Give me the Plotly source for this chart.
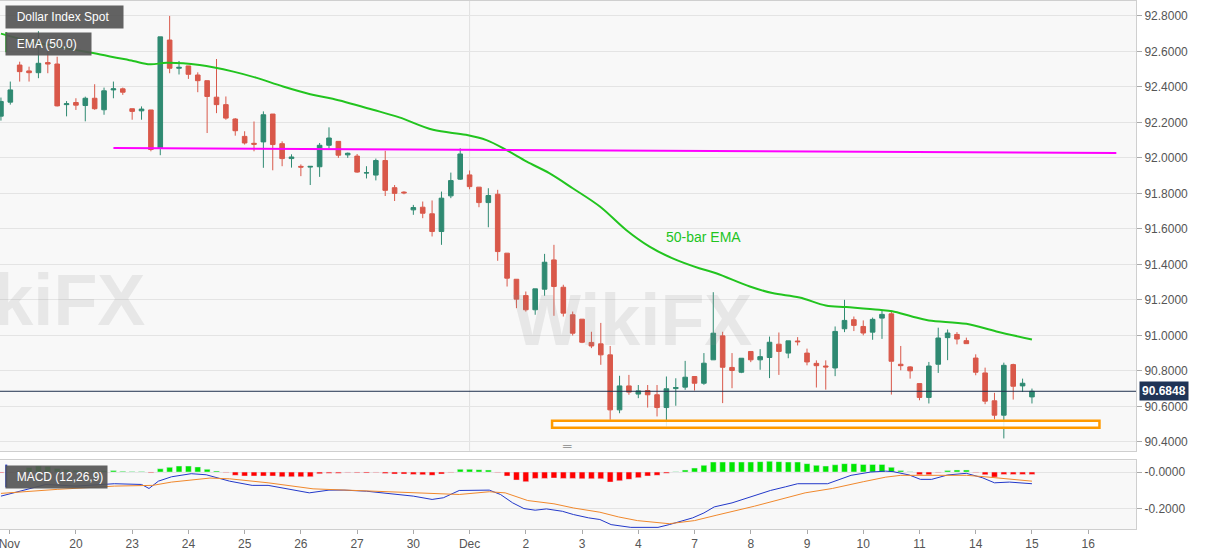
import plotly.graph_objects as go
from plotly.subplots import make_subplots

# Dollar Index Spot, 4-hour bars (bar index 0..110)
bar_open = [92.235, 92.314, 92.523, 92.49, 92.48, 92.537, 92.529, 92.30, 92.312, 92.295,
            92.336, 92.271, 92.383, 92.389, 92.277, 92.265, 92.27, 92.056, 92.664, 92.505,
            92.518, 92.467, 92.435, 92.342, 92.30, 92.219, 92.121, 92.082, 92.09, 92.247,
            92.08, 91.996, 91.952, 91.948, 91.95, 92.071, 92.093, 92.017, 92.01, 91.915,
            91.903, 91.985, 91.832, 91.807, 91.707, 91.722, 91.685, 91.585, 91.786, 91.88,
            91.904, 91.835, 91.748, 91.795, 91.463, 91.316, 91.224, 91.144, 91.26, 91.425,
            91.271, 91.116, 91.091, 90.96, 90.952, 90.89, 90.58, 90.715, 90.669, 90.689,
            90.665, 90.593, 90.70, 90.708, 90.768, 90.73, 90.862, 90.997, 90.819, 90.792,
            90.909, 90.862, 90.875, 90.95, 90.90, 90.968, 90.90, 90.842, 90.827, 90.816,
            91.037, 91.088, 91.05, 91.018, 91.097, 91.121, 90.837, 90.822, 90.728, 90.65,
            90.837, 90.987, 91.005, 90.97, 90.872, 90.788, 90.631, 90.55, 90.835, 90.715,
            90.653]
bar_high = [92.34, 92.43, 92.542, 92.514, 92.714, 92.617, 92.57, 92.32, 92.336, 92.345,
            92.415, 92.396, 92.43, 92.396, 92.277, 92.29, 92.27, 92.682, 92.8, 92.546,
            92.518, 92.482, 92.435, 92.557, 92.346, 92.224, 92.15, 92.205, 92.262, 92.247,
            92.093, 92.02, 91.963, 91.952, 92.084, 92.172, 92.093, 92.03, 92.022, 91.953,
            91.996, 92.04, 91.847, 91.812, 91.735, 91.754, 91.76, 91.81, 91.917, 92.054,
            91.929, 91.835, 91.829, 91.82, 91.463, 91.316, 91.247, 91.262, 91.459, 91.51,
            91.285, 91.134, 91.091, 91.02, 91.07, 90.94, 90.772, 90.777, 90.72, 90.72,
            90.72, 90.768, 90.758, 90.856, 90.768, 90.9, 91.243, 91.02, 90.90, 90.871,
            90.909, 90.922, 90.993, 91.016, 90.969, 90.99, 90.925, 90.859, 90.859, 91.05,
            91.2, 91.106, 91.084, 91.10, 91.14, 91.14, 90.94, 90.826, 90.728, 90.85,
            91.043, 91.033, 91.018, 90.987, 90.893, 90.818, 90.676, 90.846, 90.84, 90.756,
            90.70]
bar_low = [92.21, 92.30, 92.43, 92.43, 92.449, 92.477, 92.29, 92.234, 92.27, 92.206,
           92.271, 92.243, 92.336, 92.355, 92.215, 92.215, 92.037, 92.015, 92.477, 92.47,
           92.445, 92.37, 92.14, 92.252, 92.215, 92.125, 92.075, 92.037, 91.944, 91.93,
           91.953, 91.945, 91.897, 91.847, 91.893, 92.052, 92.0, 92.0, 91.916, 91.884,
           91.873, 91.785, 91.757, 91.795, 91.679, 91.66, 91.557, 91.51, 91.773, 91.876,
           91.823, 91.722, 91.609, 91.42, 91.275, 91.153, 91.134, 91.116, 91.223, 91.11,
           91.106, 90.999, 90.956, 90.928, 90.834, 90.524, 90.561, 90.665, 90.646, 90.593,
           90.543, 90.486, 90.603, 90.693, 90.689, 90.721, 90.862, 90.618, 90.702, 90.787,
           90.849, 90.806, 90.759, 90.777, 90.871, 90.943, 90.831, 90.706, 90.694, 90.77,
           91.018, 91.024, 91.0, 90.975, 90.98, 90.666, 90.803, 90.756, 90.634, 90.616,
           90.788, 90.86, 90.949, 90.953, 90.775, 90.612, 90.526, 90.419, 90.638, 90.681,
           90.616]
bar_close = [92.318, 92.383, 92.486, 92.48, 92.533, 92.529, 92.293, 92.305, 92.297, 92.336,
             92.277, 92.378, 92.389, 92.37, 92.262, 92.275, 92.047, 92.682, 92.505, 92.51,
             92.471, 92.435, 92.346, 92.30, 92.224, 92.153, 92.084, 92.077, 92.243, 92.075,
             91.996, 92.005, 91.948, 91.952, 92.071, 92.112, 92.015, 92.026, 91.92, 91.916,
             91.985, 91.817, 91.80, 91.803, 91.72, 91.688, 91.585, 91.773, 91.872, 92.022,
             91.838, 91.748, 91.788, 91.472, 91.322, 91.204, 91.144, 91.262, 91.412, 91.275,
             91.125, 91.012, 90.961, 90.94, 90.89, 90.58, 90.715, 90.68, 90.687, 90.665,
             90.593, 90.699, 90.706, 90.764, 90.73, 90.843, 91.012, 90.82, 90.802, 90.871,
             90.862, 90.88, 90.961, 90.909, 90.969, 90.964, 90.85, 90.829, 90.822, 91.022,
             91.084, 91.056, 91.013, 91.09, 91.118, 90.854, 90.829, 90.80, 90.65, 90.827,
             90.985, 91.013, 90.979, 90.953, 90.792, 90.629, 90.55, 90.831, 90.713, 90.73,
             90.6848]
last_price = 90.6848

# 50-bar EMA
ema_x = [0, 3, 7, 10.6, 14.1, 15.9, 17.7, 21.2, 24.8, 27.2, 30.1, 33, 35.4, 39.7, 42.5,
         46.1, 49.6, 51.8, 53.9, 56.1, 58.5, 61, 63.9, 66.7, 69.2, 71.6, 74.5, 76.3, 79.9,
         82.3, 85.2, 88, 90.2, 93.7, 95.1, 97.2, 99, 103, 106.2, 110]
ema_y = [92.70, 92.658, 92.617, 92.583, 92.546, 92.527, 92.536, 92.523, 92.486, 92.452,
         92.402, 92.359, 92.333, 92.271, 92.228, 92.158, 92.13, 92.10, 92.045, 91.979,
         91.914, 91.829, 91.726, 91.594, 91.50, 91.435, 91.378, 91.35, 91.275, 91.238,
         91.213, 91.168, 91.159, 91.144, 91.136, 91.106, 91.084, 91.065, 91.022, 90.977]

# horizontal resistance (magenta) and support zone (orange)
resist_x = [12, 119]
resist_y = [92.056, 92.028]
zone_x = [58.8, 117.2]
zone_y = [90.479, 90.518]

# MACD (12,26,9)
macd_x = [0, 4.8, 8, 12.1, 15, 15.8, 16.8, 18.2, 20.3, 21.9, 24.4, 26.8, 28.5, 30.9, 32.9,
          35, 36.6, 39, 41.5, 44, 46, 47.2, 48.9, 50.9, 52.1, 53.3, 54.6, 55.8, 57, 58.2,
          59.9, 61.1, 62.7, 63.9, 65.1, 67.2, 70.1, 71.3, 73.8, 75, 76.1, 78, 80, 82.1,
          83.7, 85, 88.2, 89.4, 90.7, 92.8, 94.4, 95.2, 96.9, 98.1, 99.3, 101, 103, 104.7,
          106, 107.6, 110]
macd_y = [-0.132, -0.068, -0.077, -0.064, -0.068, -0.09, -0.05, -0.026, -0.009, -0.015,
          -0.05, -0.073, -0.073, -0.095, -0.114, -0.099, -0.099, -0.105, -0.117, -0.132,
          -0.15, -0.141, -0.101, -0.099, -0.099, -0.123, -0.169, -0.2, -0.209, -0.202,
          -0.215, -0.233, -0.251, -0.26, -0.288, -0.303, -0.303, -0.288, -0.251, -0.224,
          -0.191, -0.169, -0.136, -0.101, -0.081, -0.064, -0.064, -0.04, -0.018, 0.0,
          0.005, 0.002, -0.016, -0.04, -0.04, -0.016, -0.007, -0.031, -0.059, -0.055, -0.064]
signal_x = [0, 6, 12.1, 16.2, 18.2, 22.3, 24.4, 28.5, 33.3, 36.6, 40.7, 44.8, 48.9, 52.1,
            53.8, 56.2, 59, 61.1, 63.9, 65.9, 67.9, 71.3, 74, 76.3, 80.4, 85.8, 88.7, 92,
            94.4, 96, 98.1, 101, 103, 105, 107.2, 110]
signal_y = [-0.117, -0.095, -0.077, -0.073, -0.055, -0.033, -0.037, -0.059, -0.092, -0.099,
            -0.105, -0.117, -0.123, -0.108, -0.114, -0.156, -0.174, -0.197, -0.22, -0.246,
            -0.266, -0.283, -0.266, -0.237, -0.187, -0.114, -0.09, -0.053, -0.028, -0.018,
            -0.018, -0.022, -0.018, -0.026, -0.035, -0.05]
macd_hist = [-0.004, -0.003, 0.005, 0.025, 0.033, 0.03, 0.02, 0.012, 0.01, 0.008,
             0.006, 0.009, 0.008, 0.004, 0.003, 0.003, -0.004, 0.018, 0.026, 0.033,
             0.033, 0.028, 0.015, 0.006, -0.002, -0.018, -0.022, -0.022, -0.022, -0.022,
             -0.026, -0.026, -0.026, -0.026, -0.01, -0.006, -0.006, -0.003, -0.004, -0.005,
             -0.002, -0.008, -0.011, -0.011, -0.013, -0.015, -0.018, -0.011, -0.002, 0.015,
             0.015, 0.013, 0.011, -0.003, -0.022, -0.044, -0.053, -0.035, -0.035, -0.033,
             -0.035, -0.035, -0.037, -0.037, -0.037, -0.055, -0.048, -0.04, -0.031, -0.022,
             -0.018, -0.007, 0.002, 0.011, 0.022, 0.037, 0.055, 0.055, 0.055, 0.055,
             0.055, 0.057, 0.059, 0.057, 0.055, 0.055, 0.046, 0.037, 0.033, 0.04,
             0.046, 0.046, 0.042, 0.042, 0.042, 0.026, 0.009, 0.002, -0.015, -0.015,
             -0.003, 0.009, 0.011, 0.011, -0.002, -0.015, -0.028, -0.013, -0.013, -0.013,
             -0.013]

day_ticks = [0.9, 8, 14, 20, 26, 32, 38, 44, 50, 56, 62, 68, 74, 80, 86, 92, 98, 104, 110, 116]
day_labels = ["Nov", "20", "23", "24", "25", "26", "27", "30", "Dec", "2", "3", "4",
              "7", "8", "9", "10", "11", "14", "15", "16"]
price_ticks = [90.4, 90.6, 90.8, 91.0, 91.2, 91.4, 91.6, 91.8, 92.0, 92.2, 92.4, 92.6, 92.8]
macd_ticks = [0.0, -0.2]
macd_ticktext = ["-0.0000", "-0.2000"]

GREEN_UP = "#2f8a72"
RED_DN = "#d9584a"
GRID = "#e4e4e4"
FRAME = "#cfcfcf"
TXT = "#555555"
WATER = "rgba(140,140,140,0.16)"

idx = list(range(len(bar_close)))

fig = make_subplots(rows=2, cols=1, shared_xaxes=True)

fig.add_trace(go.Candlestick(x=idx, open=bar_open, high=bar_high, low=bar_low, close=bar_close,
                             increasing=dict(line=dict(color=GREEN_UP, width=1), fillcolor=GREEN_UP),
                             decreasing=dict(line=dict(color=RED_DN, width=1), fillcolor=RED_DN),
                             whiskerwidth=0, showlegend=False, hoverinfo="skip"), row=1, col=1)

fig.add_trace(go.Scatter(x=ema_x, y=ema_y, mode="lines", line=dict(color="#22c41f", width=2),
                         line_shape="spline", showlegend=False, hoverinfo="skip"), row=1, col=1)

fig.add_trace(go.Scatter(x=resist_x, y=resist_y, mode="lines", line=dict(color="#ff00ff", width=2),
                         showlegend=False, hoverinfo="skip"), row=1, col=1)

# support zone box
fig.add_shape(type="rect", x0=zone_x[0], x1=zone_x[1], y0=zone_y[0], y1=zone_y[1],
              line=dict(color="#ff9a00", width=2.5), fillcolor="rgba(255,255,255,0.85)",
              row=1, col=1)

# last price line
fig.add_shape(type="line", xref="x domain", x0=0, x1=1, y0=last_price, y1=last_price,
              line=dict(color="#1f2f4d", width=1), row=1, col=1)

# month separator
for r in (1, 2):
    fig.add_vline(x=50, line=dict(color="#e0e0e0", width=1), row=r, col=1, layer="below")

hist_colors = ["#00e600" if v > 0 else "#ff0000" for v in macd_hist]
fig.add_trace(go.Bar(x=idx, y=macd_hist, marker_color=hist_colors, width=0.62,
                     showlegend=False, hoverinfo="skip"), row=2, col=1)
fig.add_trace(go.Scatter(x=macd_x, y=macd_y, mode="lines", line=dict(color="#2238c9", width=1),
                         showlegend=False, hoverinfo="skip"), row=2, col=1)
fig.add_trace(go.Scatter(x=signal_x, y=signal_y, mode="lines", line=dict(color="#f0882c", width=1),
                         showlegend=False, hoverinfo="skip"), row=2, col=1)

xrange = [-0.1, 121.1]
fig.update_xaxes(range=xrange, showgrid=False, zeroline=False, showline=True, mirror=True,
                 linecolor=FRAME, rangeslider_visible=False, fixedrange=True)
fig.update_xaxes(showticklabels=False, row=1, col=1)
fig.update_xaxes(tickmode="array", tickvals=day_ticks, ticktext=day_labels, ticks="outside",
                 ticklen=4, tickcolor="#aaaaaa", tickfont=dict(color=TXT, size=12),
                 ticklabeloverflow="allow", row=2, col=1)

fig.update_yaxes(side="right", showgrid=True, gridcolor=GRID, zeroline=False, showline=True,
                 mirror=True, linecolor=FRAME, ticks="outside", ticklen=5, tickcolor="#aaaaaa",
                 tickfont=dict(color=TXT, size=12), fixedrange=True)
fig.update_yaxes(range=[90.349, 92.884], tickmode="array", tickvals=price_ticks,
                 tickformat=".4f", domain=[0.148, 1.0], row=1, col=1)
fig.update_yaxes(range=[-0.312, 0.064], tickmode="array", tickvals=macd_ticks,
                 ticktext=macd_ticktext, domain=[0.0, 0.13], row=2, col=1)

# panel labels
label_style = dict(xref="paper", yref="paper", xanchor="left", yanchor="top", showarrow=False,
                   bgcolor="rgba(85,85,85,0.92)", font=dict(color="white", size=12),
                   borderpad=4)
fig.add_annotation(text="&nbsp;&nbsp;Dollar Index Spot&nbsp;&nbsp;&nbsp;", x=0.004, y=0.992,
                   **label_style)
fig.add_annotation(text="&nbsp;&nbsp;EMA (50,0)&nbsp;&nbsp;&nbsp;", x=0.004, y=0.941,
                   **label_style)
fig.add_annotation(text="&nbsp;&nbsp;MACD (12,26,9)", x=0.004, y=0.122, **label_style)
fig.add_shape(type="line", xref="paper", yref="paper", x0=0.0055, x1=0.0055, y0=0.903, y1=0.941,
              line=dict(color="#22c41f", width=2))
fig.add_shape(type="line", xref="paper", yref="paper", x0=0.0055, x1=0.0055, y0=0.079, y1=0.122,
              line=dict(color="#2238c9", width=2))

fig.add_annotation(text="50-bar EMA", x=75, y=91.555, xref="x", yref="y", showarrow=False,
                   font=dict(color="#22c41f", size=14))

# last price tag
fig.add_annotation(text="<b>90.6848</b>", xref="paper", x=1, xanchor="left", xshift=3,
                   y=last_price, yref="y", showarrow=False, bgcolor="#203456",
                   font=dict(color="white", size=12), borderpad=2)

# pane divider handle
fig.add_annotation(text="═", xref="paper", yref="paper", x=0.499, y=0.1406, showarrow=False,
                   font=dict(color="#888888", size=12))

# watermarks
fig.add_annotation(text="<b>WikiFX</b>", x=67.4, y=91.087, xref="x", yref="y", showarrow=False,
                   font=dict(color=WATER, size=72, family="Liberation Sans"))
fig.add_annotation(text="<b>WikiFX</b>", x=2.6, y=91.2, xref="x", yref="y", showarrow=False,
                   font=dict(color=WATER, size=72, family="Liberation Sans"))

fig.update_layout(width=1207, height=555, margin=dict(l=0, r=71, t=1, b=26),
                  paper_bgcolor="white", plot_bgcolor="#f8f8f8",
                  font=dict(family="Liberation Sans", color=TXT, size=12),
                  bargap=0.3, boxgap=0.3, hovermode=False)

fig.write_html("out.html", config={"displayModeBar": False},
               post_script="document.body.style.margin='0';")
